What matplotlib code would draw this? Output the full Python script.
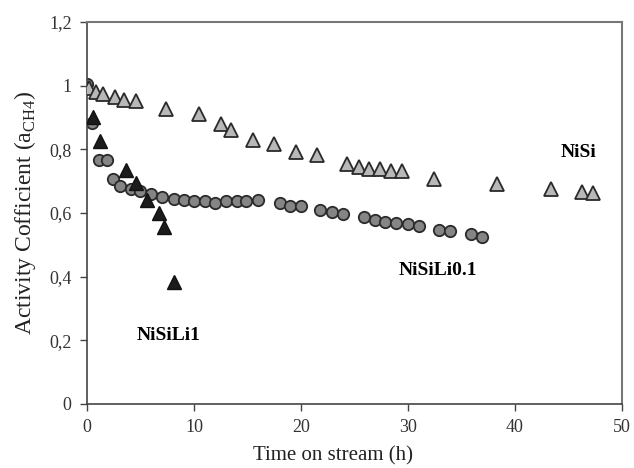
import numpy as np
import matplotlib
matplotlib.use("Agg")
import matplotlib.pyplot as plt

# NiSi (triangulos gris claro)
t_nisi = [0.2, 0.8, 1.5, 2.6, 3.5, 4.6, 7.4, 10.5, 12.5, 13.5, 15.5, 17.5, 19.5,
          21.5, 24.3, 25.4, 26.4, 27.4, 28.4, 29.4, 32.4, 38.3, 43.4, 46.3, 47.3]
a_nisi = [0.993, 0.98, 0.974, 0.964, 0.956, 0.951, 0.927, 0.912, 0.881, 0.862,
          0.830, 0.817, 0.792, 0.782, 0.754, 0.746, 0.737, 0.738, 0.731, 0.731,
          0.707, 0.690, 0.674, 0.667, 0.663]

# NiSiLi0.1 (circulos gris)
t_li01 = [0.0, 0.5, 1.15, 1.9, 2.4, 3.1, 4.1, 5.0, 6.0, 7.0, 8.1, 9.1, 10.0, 11.0,
          12.0, 13.0, 14.0, 14.9, 16.0, 18.0, 19.0, 20.0, 21.8, 22.9, 23.9, 25.9,
          26.9, 27.9, 28.9, 30.0, 31.0, 32.9, 33.9, 35.9, 36.9]
a_li01 = [1.005, 0.884, 0.767, 0.767, 0.707, 0.685, 0.674, 0.669, 0.659, 0.649,
          0.644, 0.640, 0.637, 0.637, 0.632, 0.637, 0.637, 0.637, 0.641, 0.631,
          0.622, 0.622, 0.609, 0.602, 0.597, 0.586, 0.578, 0.573, 0.570, 0.566,
          0.560, 0.548, 0.542, 0.533, 0.526]

# NiSiLi1 (triangulos negros)
t_li1 = [0.6, 1.2, 3.6, 4.6, 5.6, 6.7, 7.2, 8.1]
a_li1 = [0.903, 0.826, 0.735, 0.693, 0.641, 0.599, 0.555, 0.384]

plt.rcParams['font.family'] = ['Liberation Serif', 'DejaVu Serif']
plt.rcParams['mathtext.fontset'] = 'custom'
plt.rcParams['mathtext.rm'] = 'Liberation Serif'

fig = plt.figure(figsize=(6.34, 4.68), dpi=100)
ax = fig.add_axes([0.1372, 0.1368, 0.981 - 0.1372, 0.953 - 0.1368])

ax.plot(t_li1, a_li1, '^', ms=10.5, mfc='#1c1c1c', mec='#111111', mew=1.0, zorder=3)
ax.plot(t_li01, a_li01, 'o', ms=8.2, mfc='#858585', mec='#2a2a2a', mew=1.3, zorder=2)
ax.plot(t_nisi, a_nisi, '^', ms=10.5, mfc='#b8b8b8', mec='#2a2a2a', mew=1.3, zorder=4)

# Etiquetas de las series
ax.text(45.9, 0.79, 'NiSi', fontsize=14, fontweight='bold', ha='center', va='center')
ax.text(32.8, 0.419, 'NiSiLi0.1', fontsize=14, fontweight='bold', ha='center', va='center')
ax.text(7.6, 0.214, 'NiSiLi1', fontsize=14, fontweight='bold', ha='center', va='center')

ax.set_xlim(0, 50)
ax.set_ylim(0, 1.2)
ax.set_xticks([0, 10, 20, 30, 40, 50])
ax.set_yticks([0, 0.2, 0.4, 0.6, 0.8, 1.0, 1.2])
ax.set_yticklabels(['0', '0,2', '0,4', '0,6', '0,8', '1', '1,2'])
ax.tick_params(axis='both', direction='out', length=5, width=1, color='#444444',
               labelsize=13, labelcolor='#333333', pad=6)

for side in ['left', 'bottom']:
    ax.spines[side].set_color('#444444')
    ax.spines[side].set_linewidth(1.2)
for side in ['top', 'right']:
    ax.spines[side].set_color('#777777')
    ax.spines[side].set_linewidth(1.5)

ax.set_xlabel('Time on stream (h)', fontsize=15, color='#222222')
ax.xaxis.set_label_coords(0.46, -0.11)
ax.set_ylabel(r'Activity Cofficient (a$_{\mathrm{CH4}}$)', fontsize=17, color='#222222', labelpad=8)

fig.savefig('out.png', dpi=100)
